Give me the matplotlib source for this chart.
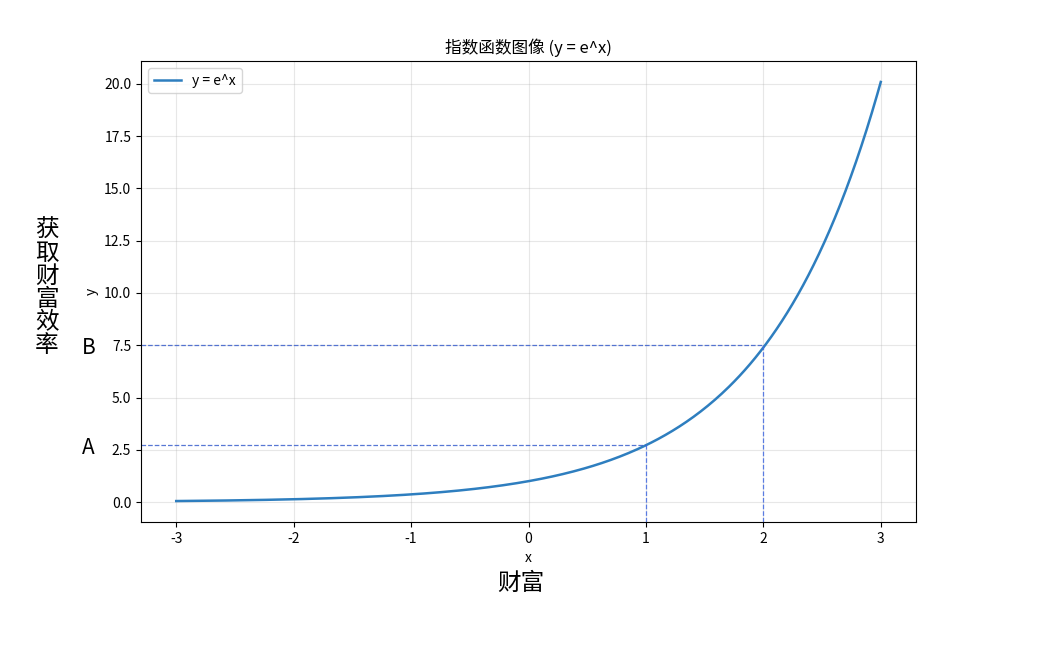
import numpy as np
import matplotlib
matplotlib.use("Agg")
import matplotlib.pyplot as plt
import matplotlib.transforms as mtransforms

plt.rcParams["font.family"] = ["Noto Sans CJK SC", "DejaVu Sans"]
plt.rcParams["axes.unicode_minus"] = False

# curve samples and the two marked points
x = np.linspace(-3, 3, 400)
y = np.exp(x)
mark_x = [1, 2]
mark_y = [2.72, 7.5]
mark_names = ["A", "B"]

fig = plt.figure(figsize=(10.48, 6.47), dpi=100)
ax = fig.add_axes([141 / 1048, 1 - 522 / 647, 775 / 1048, 461 / 647])

ax.plot(x, y, color="#2e7ebf", linewidth=1.8, label="y = e^x")
ax.set_title("指数函数图像 (y = e^x)", fontsize=12)
ax.set_xlabel("x", fontsize=10)
ax.set_ylabel("y", fontsize=10)
ax.grid(True, alpha=0.3)
ax.legend(loc="upper left", fontsize=10)

# freeze autoscaled limits so the guide lines reach the frame
x0, x1 = ax.get_xlim()
y0, y1 = ax.get_ylim()
ax.set_xlim(x0, x1)
ax.set_ylim(y0, y1)

blend = mtransforms.blended_transform_factory(ax.transAxes, ax.transData)
shift = blend + mtransforms.ScaledTranslation(0, -0.025, fig.dpi_scale_trans)
for mx, my, name in zip(mark_x, mark_y, mark_names):
    ax.hlines(my, x0, mx, colors="#3a5fcd", linestyles="--", linewidth=0.9, alpha=0.85)
    ax.vlines(mx, y0, my, colors="#4169e1", linestyles="--", linewidth=0.9, alpha=0.85)
    ax.text(-0.068, my, name, transform=shift, fontsize=15, ha="center", va="center")

fig.text(47 / 1048, 1 - 288 / 647, "\n".join("获取财富效率"), fontsize=17,
         ha="center", va="center", linespacing=1.0)
fig.text(521 / 1048, 1 - 583 / 647, "财富", fontsize=17, ha="center", va="center")

fig.savefig("out.png", dpi=100)
